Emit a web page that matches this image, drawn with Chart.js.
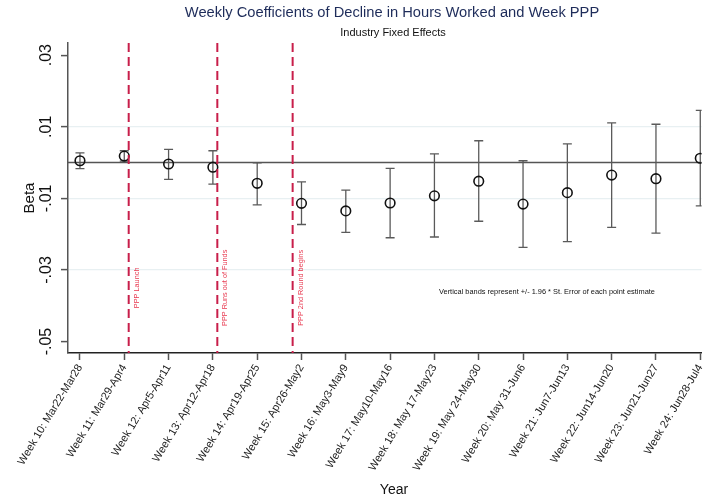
<!DOCTYPE html>
<html>
<head>
<meta charset="utf-8">
<script src="https://cdn.jsdelivr.net/npm/chart.js@4/dist/chart.umd.min.js"></script>
<style>
  html, body { margin: 0; padding: 0; background: #fff; }
  canvas { display: block; }
</style>
</head>
<body>
<canvas id="betaChart" width="708" height="503"></canvas>
<script>
const weekLabels = [
  "Week 10: Mar22-Mar28", "Week 11: Mar29-Apr4", "Week 12: Apr5-Apr11",
  "Week 13: Apr12-Apr18", "Week 14: Apr19-Apr25", "Week 15: Apr26-May2",
  "Week 16: May3-May9", "Week 17: May10-May16", "Week 18: May 17-May23",
  "Week 19: May 24-May30", "Week 20: May 31-Jun6", "Week 21: Jun7-Jun13",
  "Week 22: Jun14-Jun20", "Week 23: Jun21-Jun27", "Week 24: Jun28-Jul4"
];
const beta  = [0.0005, 0.0018, -0.0004, -0.0013, -0.0058, -0.0114, -0.0135, -0.0113, -0.0093, -0.0052, -0.0116, -0.0084, -0.0035, -0.0045, 0.0012];
const upper = [0.0027, 0.0033, 0.0037, 0.0033, -0.0001, -0.0054, -0.0077, -0.0016, 0.0024, 0.0061, 0.0005, 0.0052, 0.0111, 0.0107, 0.0146];
const lower = [-0.0017, 0.0004, -0.0047, -0.0060, -0.0118, -0.0173, -0.0195, -0.0210, -0.0208, -0.0164, -0.0237, -0.0221, -0.0181, -0.0197, -0.0121];

const yTickVals   = [0.03, 0.01, -0.01, -0.03, -0.05];
const yTickLabels = [".03", ".01", "-.01", "-.03", "-.05"];

const pppLines = [1.1, 3.1, 4.8];
const pppNotes = ["PPP Launch", "PPP Runs out of Funds", "PPP 2nd Round begins"];

const FONT = "'Liberation Sans', Arial, Helvetica, sans-serif";

const ctx = document.getElementById("betaChart").getContext("2d");

// extra drawing: zero line, error bars, PPP markers, texts
const extras = {
  id: "extras",
  beforeDatasetsDraw(chart) {
    const { ctx, chartArea: a, scales: { x, y } } = chart;
    ctx.save();
    ctx.beginPath();
    ctx.rect(a.left, a.top, a.right - a.left, a.bottom - a.top);
    ctx.clip();
    // zero line
    ctx.strokeStyle = "#555";
    ctx.lineWidth = 1.5;
    ctx.beginPath();
    ctx.moveTo(a.left, y.getPixelForValue(0));
    ctx.lineTo(a.right, y.getPixelForValue(0));
    ctx.stroke();
    // error bars
    ctx.strokeStyle = "#5a5a5a";
    ctx.lineWidth = 1.3;
    beta.forEach((b, i) => {
      const px = x.getPixelForValue(i);
      const hi = y.getPixelForValue(upper[i]);
      const lo = y.getPixelForValue(lower[i]);
      ctx.beginPath();
      ctx.moveTo(px, hi); ctx.lineTo(px, lo);
      ctx.moveTo(px - 4.5, hi); ctx.lineTo(px + 4.5, hi);
      ctx.moveTo(px - 4.5, lo); ctx.lineTo(px + 4.5, lo);
      ctx.stroke();
    });
    ctx.restore();
  },
  afterDatasetsDraw(chart) {
    const { ctx, chartArea: a, scales: { x, y } } = chart;
    ctx.save();
    // PPP dashed lines
    ctx.strokeStyle = "#c81e4a";
    ctx.lineWidth = 2;
    ctx.setLineDash([9, 5]);
    pppLines.forEach(v => {
      const px = x.getPixelForValue(v);
      ctx.beginPath();
      ctx.moveTo(px, a.top);
      ctx.lineTo(px, a.bottom);
      ctx.stroke();
    });
    ctx.setLineDash([]);
    // PPP notes
    ctx.fillStyle = "#e8384f";
    ctx.font = "7.3px " + FONT;
    ctx.textAlign = "center";
    ctx.textBaseline = "middle";
    pppLines.forEach((v, i) => {
      ctx.save();
      ctx.translate(x.getPixelForValue(v) + 8, y.getPixelForValue(-0.035));
      ctx.rotate(-Math.PI / 2);
      ctx.fillText(pppNotes[i], 0, 0);
      ctx.restore();
    });
    // note
    ctx.fillStyle = "#111";
    ctx.font = "7.4px " + FONT;
    ctx.fillText("Vertical bands represent +/- 1.96 * St. Error of each point estimate",
      x.getPixelForValue(10.54), y.getPixelForValue(-0.0361));
    ctx.restore();
  },
  afterDraw(chart) {
    const { ctx, scales: { y } } = chart;
    ctx.save();
    ctx.textAlign = "center";
    ctx.textBaseline = "middle";
    // titles
    ctx.fillStyle = "#1e2c5a";
    ctx.font = "14.7px " + FONT;
    ctx.fillText("Weekly Coefficients of Decline in Hours Worked and Week PPP", 392, 13);
    ctx.fillStyle = "#111";
    ctx.font = "11px " + FONT;
    ctx.fillText("Industry Fixed Effects", 393, 33);
    // y tick labels (vertical)
    ctx.fillStyle = "#111";
    ctx.font = "16px " + FONT;
    yTickVals.forEach((v, i) => {
      ctx.save();
      ctx.translate(47, y.getPixelForValue(v));
      ctx.rotate(-Math.PI / 2);
      ctx.fillText(yTickLabels[i], 0, 0);
      ctx.restore();
    });
    // axis titles
    ctx.font = "15px " + FONT;
    ctx.save();
    ctx.translate(30, (chart.chartArea.top + chart.chartArea.bottom) / 2);
    ctx.rotate(-Math.PI / 2);
    ctx.fillText("Beta", 0, 0);
    ctx.restore();
    ctx.font = "14px " + FONT;
    ctx.fillText("Year", 394, 490);
    ctx.restore();
  }
};

new Chart(ctx, {
  type: "scatter",
  data: {
    datasets: [{
      label: "Beta",
      data: beta.map((b, i) => ({ x: i, y: b })),
      pointStyle: "circle",
      pointRadius: 4.8,
      pointBorderWidth: 1.6,
      borderColor: "#111",
      backgroundColor: "rgba(0,0,0,0)"
    }]
  },
  options: {
    responsive: false,
    animation: false,
    devicePixelRatio: 1,
    layout: { padding: { top: 43, left: 0, right: 0, bottom: 0 } },
    plugins: {
      legend: { display: false },
      tooltip: { enabled: false },
      title: { display: false }
    },
    scales: {
      x: {
        type: "linear",
        min: -0.27,
        max: 14.03,
        afterBuildTicks: s => { s.ticks = weekLabels.map((_, i) => ({ value: i })); },
        afterFit: s => { s.height = 150; s.paddingLeft = 0; s.paddingRight = 0; },
        border: { color: "#222", width: 1.5 },
        grid: { drawOnChartArea: false, tickLength: 7, tickColor: "#555", tickWidth: 1.5 },
        ticks: {
          autoSkip: false,
          minRotation: 59,
          maxRotation: 59,
          padding: 2,
          color: "#222",
          font: { family: FONT, size: 11 },
          callback: v => weekLabels[Math.round(v)]
        }
      },
      y: {
        min: -0.0532,
        max: 0.0334,
        afterBuildTicks: s => { s.ticks = yTickVals.map(v => ({ value: v })); },
        afterFit: s => { s.width = 68; s.paddingTop = 0; s.paddingBottom = 0; },
        border: { color: "#555", width: 1.5 },
        grid: {
          color: c => (c.tick && (c.tick.value === 0.03 || c.tick.value === -0.05)) ? "rgba(0,0,0,0)" : "#e8f0f2",
          lineWidth: 1.2,
          tickLength: 7,
          tickColor: "#555",
          tickWidth: 1.5
        },
        ticks: { display: false }
      }
    }
  },
  plugins: [extras]
});
</script>
</body>
</html>
